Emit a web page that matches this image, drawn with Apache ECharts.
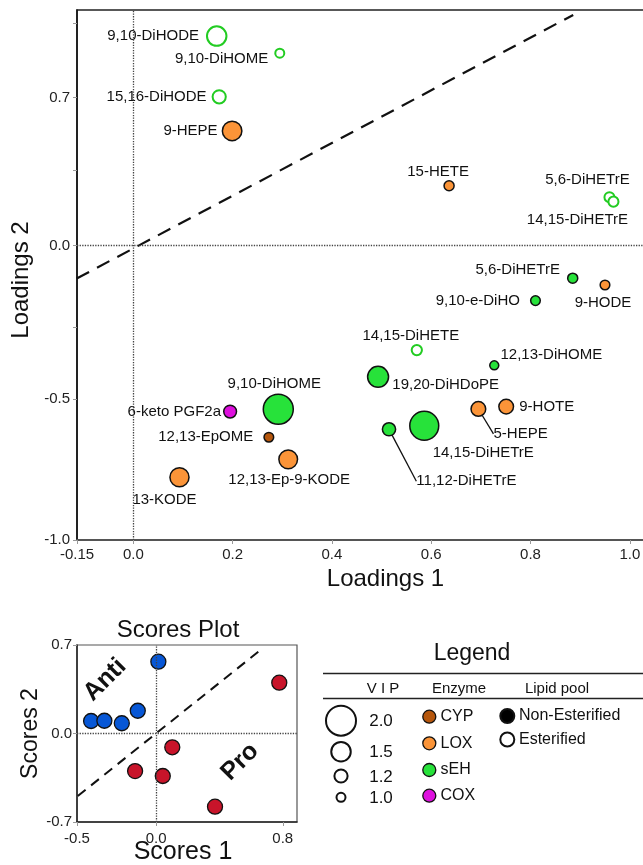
<!DOCTYPE html>
<html><head><meta charset="utf-8">
<script src="https://cdn.jsdelivr.net/npm/echarts@6/dist/echarts.min.js"></script>
<style>html,body{margin:0;padding:0;background:#fff}#c{width:643px;height:865px}</style>
</head><body><div id="c"></div><script>
const FONT = "'Liberation Sans', Arial, Helvetica, sans-serif";

// ---- Loadings plot data ----
const names = ['9,10-DiHODE','9,10-DiHOME','15,16-DiHODE','9-HEPE','15-HETE','5,6-DiHETrE','14,15-DiHETrE',
  '6-keto PGF2a','9,10-DiHOME','12,13-EpOME','12,13-Ep-9-KODE','13-KODE','5,6-DiHETrE','9-HODE','9,10-e-DiHO',
  '14,15-DiHETE','12,13-DiHOME','19,20-DiHDoPE','5-HEPE','9-HOTE','14,15-DiHETrE','11,12-DiHETrE'];
const loadX = [0.168,0.295,0.173,0.199,0.636,0.959,0.967,0.195,0.292,0.273,0.312,0.093,0.885,0.950,0.810,0.571,0.727,0.493,0.695,0.751,0.586,0.515];
const loadY = [0.711,0.653,0.505,0.389,0.203,0.164,0.149,-0.564,-0.556,-0.651,-0.726,-0.787,-0.111,-0.134,-0.187,-0.355,-0.407,-0.446,-0.555,-0.547,-0.612,-0.624];
const vip = [1.5,1.0,1.2,1.5,1.05,1.05,1.05,1.18,2.0,1.03,1.46,1.48,1.05,1.03,1.03,1.06,1.0,1.57,1.27,1.27,1.95,1.2];
const enzyme = ['sEH','sEH','sEH','LOX','LOX','sEH','sEH','COX','sEH','CYP','LOX','LOX','sEH','LOX','sEH','sEH','sEH','sEH','LOX','LOX','sEH','sEH'];
const pool = ['E','E','E','N','N','E','E','N','N','N','N','N','N','N','N','E','N','N','N','N','N','N'];

const xTickValues = [-0.1134, 0, 0.2, 0.4, 0.6, 0.8, 1.0];
const xTickLabels = ['-0.15','0.0','0.2','0.4','0.6','0.8','1.0'];
const yTickValues = [0.502, 0, -0.521, -1.0];
const yTickLabels = ['0.7','0.0','-0.5','-1.0'];
const yTickMarks = [0.756, 0.502, 0.254, 0, -0.277, -0.521, -1.0];
const diagX = [-0.114, 0.886];
const diagY = [-0.112, 0.783];

// ---- Scores plot data ----
const antiX = [0.014, -0.116, -0.411, -0.327, -0.217];
const antiY = [0.568, 0.180, 0.099, 0.101, 0.081];
const proX = [0.778, 0.102, -0.133, 0.042, 0.372];
const proY = [0.402, -0.109, -0.297, -0.336, -0.579];
const sXTicks = [-0.5, 0, 0.8];
const sXLabels = ['-0.5','0.0','0.8'];
const sYTicks = [0.7, 0, -0.7];
const sYLabels = ['0.7','0.0','-0.7'];
const sDiagX = [-0.495, 0.646];
const sDiagY = [-0.494, 0.647];

// ---- Legend ----
const vipLegend = [2.0, 1.5, 1.2, 1.0];
const enzymeNames = ['CYP','LOX','sEH','COX'];
const poolNames = ['Non-Esterified','Esterified'];

// ---- styles ----
const enzymeColor = {CYP:'#b5560c', LOX:'#fb9438', sEH:'#27e23a', COX:'#de10de'};
const esterColor = '#22cc22';
const sizeOf = v => 21 * v - 12;
// label placement: [position, dx, dy, leader]
const labelPos = [
  ['left',-2,0],['left',-1,6],['left',0,0],['left',1,0],['top',-11,4],['top',-22,1],['bottom',-36,0],
  ['left',3,0],['top',-4,3],['left',-5,0],['bottom',1,-2],['bottom',-15,0],['left',-2,-8],['bottom',-2,0],
  ['left',-5,0],['top',-6,4],['right',-4,-11],['right',-2,8],['right',2,25,true],['right',0,0],['bottom',59,-1],
  ['right',15,52,true]
];

const loadData = names.map((n, i) => {
  const lp = labelPos[i];
  const ester = pool[i] === 'E';
  return {
    name: n,
    value: [loadX[i], loadY[i]],
    symbolSize: sizeOf(vip[i]),
    itemStyle: ester ? {color:'#fff', borderColor: esterColor, borderWidth: 2, opacity: 1}
                     : {color: enzymeColor[enzyme[i]], borderColor:'#111', borderWidth: 1.5, opacity: 1},
    label: {show: true, position: lp[0]},
    labelLine: {show: !!lp[3], lineStyle: {color:'#111', width: 1.3}}
  };
});

const fmtFrom = (vals, labs) => v => {
  for (let i = 0; i < vals.length; i++) if (Math.abs(vals[i] - v) < 1e-6) return labs[i];
  return '';
};
const dotted = () => ({type: 'dotted', color: '#444', width: 1.3, opacity: 1});
const refLines = () => ({silent: true, symbol: 'none', label: {show: false}, lineStyle: dotted(),
  emphasis: {disabled: true},
  data: [{xAxis: 0, lineStyle: dotted()}, {yAxis: 0, lineStyle: dotted()}]});

const chart = echarts.init(document.getElementById('c'), null, {renderer:'canvas'});
const opt = {
  animation: false,
  backgroundColor: '#fff',
  textStyle: {fontFamily: FONT},
  grid: [
    {left: 77, top: 10, right: -3, height: 530, show: true, borderColor: '#222', borderWidth: 1.5,
     containLabel: false, outerBoundsMode: 'none'},
    {left: 77, top: 645, width: 220, height: 177, show: true, borderColor: '#555', borderWidth: 1.2,
     containLabel: false, outerBoundsMode: 'none'}
  ],
  xAxis: [
    {gridIndex: 0, type: 'value', min: -0.1134, max: 1.0326,
     splitLine: {show: false},
     axisLine: {show: true, onZero: false, lineStyle: {color: '#555', width: 2}},
     axisTick: {show: true, length: 4, lineStyle: {color: '#999'}, customValues: xTickValues},
     axisLabel: {customValues: xTickValues, formatter: fmtFrom(xTickValues, xTickLabels), fontSize: 15, color: '#222', margin: 7, fontFamily: FONT},
     name: 'Loadings 1', nameLocation: 'middle', nameGap: 27,
     nameTextStyle: {fontSize: 24, color: '#111', fontFamily: FONT, padding: [0,0,0,48]}},
    {gridIndex: 1, type: 'value', min: -0.5, max: 0.89,
     splitLine: {show: false},
     axisLine: {show: true, onZero: false, lineStyle: {color: '#222', width: 1.5}},
     axisTick: {show: true, length: 4, lineStyle: {color: '#999'}, customValues: sXTicks},
     axisLabel: {customValues: sXTicks, formatter: fmtFrom(sXTicks, sXLabels), fontSize: 15, color: '#222', margin: 9, fontFamily: FONT},
     name: 'Scores 1', nameLocation: 'middle', nameGap: 18, nameMoveOverlap: false,
     nameTextStyle: {fontSize: 25, color: '#111', fontFamily: FONT, padding: [0,8,0,0]}}
  ],
  yAxis: [
    {gridIndex: 0, type: 'value', min: -1.0, max: 0.7997,
     splitLine: {show: false},
     axisLine: {show: true, onZero: false, lineStyle: {color: '#111', width: 1.5}},
     axisTick: {show: true, length: 4, lineStyle: {color: '#999'}, customValues: yTickMarks},
     axisLabel: {customValues: yTickValues, formatter: fmtFrom(yTickValues, yTickLabels), fontSize: 15, color: '#222', margin: 7, fontFamily: FONT},
     name: 'Loadings 2', nameLocation: 'middle', nameGap: 43,
     nameTextStyle: {fontSize: 24, color: '#111', fontFamily: FONT, padding: [0,10,0,0]}},
    {gridIndex: 1, type: 'value', min: -0.7, max: 0.7,
     splitLine: {show: false},
     axisLine: {show: true, onZero: false, lineStyle: {color: '#222', width: 1.5}},
     axisTick: {show: true, length: 4, lineStyle: {color: '#999'}, customValues: sYTicks},
     axisLabel: {customValues: sYTicks, formatter: fmtFrom(sYTicks, sYLabels), fontSize: 15, color: '#222', margin: 5, fontFamily: FONT},
     name: 'Scores 2', nameLocation: 'middle', nameGap: 32,
     nameTextStyle: {fontSize: 23, color: '#111', fontFamily: FONT}}
  ],
  series: [
    {type: 'line', xAxisIndex: 0, yAxisIndex: 0, data: diagX.map((x, i) => [x, diagY[i]]),
     symbol: 'none', silent: true, lineStyle: {color: '#111', width: 2.2, type: [14, 9]}, z: 1},
    {type: 'scatter', xAxisIndex: 0, yAxisIndex: 0, data: loadData, z: 3,
     label: {color: '#111', fontSize: 15, fontFamily: FONT, distance: 5, formatter: '{b}'},
     labelLayout: function (p) {
       const lp = labelPos[p.dataIndex];
       return lp ? {dx: lp[1], dy: lp[2]} : {};
     },
     emphasis: {disabled: true},
     markLine: refLines()},
    {type: 'line', xAxisIndex: 1, yAxisIndex: 1, data: sDiagX.map((x, i) => [x, sDiagY[i]]),
     symbol: 'none', silent: true, lineStyle: {color: '#111', width: 2, type: [10, 7]}, z: 1},
    {type: 'scatter', xAxisIndex: 1, yAxisIndex: 1, name: 'Anti', z: 3,
     data: antiX.map((x, i) => [x, antiY[i]]), symbolSize: 15,
     itemStyle: {color: '#0757d6', borderColor: '#111', borderWidth: 1.3, opacity: 1}, emphasis: {disabled: true},
     markLine: refLines()},
    {type: 'scatter', xAxisIndex: 1, yAxisIndex: 1, name: 'Pro', z: 3,
     data: proX.map((x, i) => [x, proY[i]]), symbolSize: 15,
     itemStyle: {color: '#c8142a', borderColor: '#111', borderWidth: 1.3, opacity: 1}, emphasis: {disabled: true}}
  ],
  graphic: []
};

const g = [];
const txt = (x, y, t, size, extra) => g.push(Object.assign({type: 'text', x: x, y: y,
  style: Object.assign({text: t, fontSize: size, fontFamily: FONT, fill: '#111', align: 'center', verticalAlign: 'middle'}, extra || {})}));
// Scores plot title & annotations
txt(178, 630, 'Scores Plot', 24);
g.push({type: 'text', x: 105, y: 680, rotation: Math.PI / 4,
  style: {text: 'Anti', fontSize: 25, fontWeight: 'bold', fontFamily: FONT, fill: '#111', align: 'center', verticalAlign: 'middle'}});
g.push({type: 'text', x: 240, y: 762, rotation: Math.PI / 4,
  style: {text: 'Pro', fontSize: 25, fontWeight: 'bold', fontFamily: FONT, fill: '#111', align: 'center', verticalAlign: 'middle'}});
// Legend
txt(472, 654, 'Legend', 23);
[673.5, 698.5].forEach(y => g.push({type: 'line', shape: {x1: 323, y1: y, x2: 643, y2: y}, style: {stroke: '#222', lineWidth: 1.6}}));
txt(383, 688.5, 'V I P', 15);
txt(459, 688.5, 'Enzyme', 15);
txt(557, 688.5, 'Lipid pool', 15);
const vipRowY = [720.7, 751.7, 776, 797.3];
vipLegend.forEach((v, i) => {
  g.push({type: 'circle', shape: {cx: 341, cy: vipRowY[i], r: sizeOf(v) / 2}, style: {fill: '#fff', stroke: '#111', lineWidth: 2}});
  txt(381, vipRowY[i] + 1, v.toFixed(1), 17);
});
const enzRowY = [716.7, 743.3, 770, 795.7];
enzymeNames.forEach((e, i) => {
  g.push({type: 'circle', shape: {cx: 429.3, cy: enzRowY[i], r: 6.5}, style: {fill: enzymeColor[e], stroke: '#111', lineWidth: 1.3}});
  txt(440.5, enzRowY[i], e, 16, {align: 'left'});
});
const poolRowY = [716, 739.5];
poolNames.forEach((p, i) => {
  g.push({type: 'circle', shape: {cx: 507.3, cy: poolRowY[i], r: 7}, style: {fill: i === 0 ? '#000' : '#fff', stroke: '#111', lineWidth: 2}});
  txt(519, poolRowY[i], p, 16, {align: 'left'});
});
opt.graphic = g;
chart.setOption(opt);
</script></body></html>
